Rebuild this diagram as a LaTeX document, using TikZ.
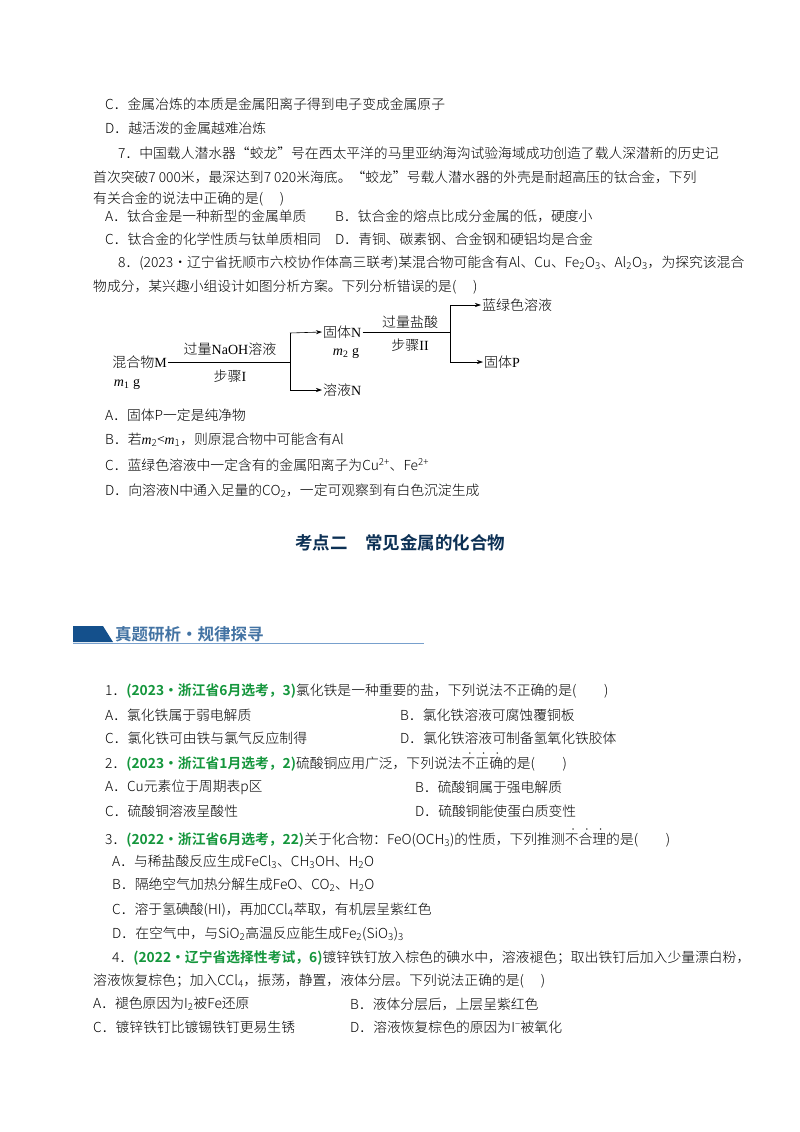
\documentclass[tikz,border=0pt]{standalone}
\usepackage{fontspec}
\setmainfont{Noto Sans CJK SC}[UprightFont=* Light,BoldFont=* Bold]
\newfontfamily\lat{Liberation Serif}
\usetikzlibrary{arrows.meta}
\definecolor{qgreen}{RGB}{20,150,60}
\definecolor{hblue}{RGB}{20,80,140}
\definecolor{lblue}{RGB}{120,160,205}
\newcommand{\src}[1]{\textcolor{qgreen}{\textbf{#1}}}
\newcommand{\ed}[1]{\makebox[0pt][l]{\makebox[1em][c]{\hspace{0.2em}\raisebox{0.9em}{\fontsize{6}{6}\selectfont\lat •}}}#1}
\newcommand{\mi}[1]{{\lat\itshape #1}}
\begin{document}
\begin{tikzpicture}[x=1pt,y=-1pt,
  t/.style={anchor=west,inner sep=0,font=\fontsize{13.8}{16}\selectfont},
  f/.style={inner sep=1pt,font=\fontsize{14}{16}\selectfont},
  ar/.style={-{Stealth[length=6pt,width=4pt]},line width=0.6pt},
  ln/.style={line width=0.6pt}]
\useasboundingbox (0,0) rectangle (800,1132);
\fill[white] (0,0) rectangle (800,1132);
\node[t] (l1) at (105,104) {C．金属冶炼的本质是金属阳离子得到电子变成金属原子};
\node[t] (l2) at (105,128) {D．越活泼的金属越难冶炼};
\node[t] (l3) at (118,153) {7．中国载人潜水器“蛟龙”号在西太平洋的马里亚纳海沟试验海域成功创造了载人深潜新的历史记};
\node[t] (l4) at (93,177) {首次突破7 000米，最深达到7 020米海底。“蛟龙”号载人潜水器的外壳是耐超高压的钛合金，下列};
\node[t] (l5) at (93,199) {有关合金的说法中正确的是(\quad\ )};
\node[t] (l6) at (105,216) {A．钛合金是一种新型的金属单质};
\node[t] (l6b) at (335,216) {B．钛合金的熔点比成分金属的低，硬度小};
\node[t] (l7) at (105,239) {C．钛合金的化学性质与钛单质相同};
\node[t] (l7b) at (335,239) {D．青铜、碳素钢、合金钢和硬铝均是合金};
\node[t] (l8) at (118,263) {8．(2023·辽宁省抚顺市六校协作体高三联考)某混合物可能含有Al、Cu、Fe\textsubscript{2}O\textsubscript{3}、Al\textsubscript{2}O\textsubscript{3}，为探究该混合};
\node[t] (l9) at (93,287) {物成分，某兴趣小组设计如图分析方案。下列分析错误的是(\quad\ )};
% diagram
\node[f,anchor=east] (M) at (168,362) {混合物{\lat M}};
\node[f] (m1) at (127,384) {\mi{m}{\lat\textsubscript{1} g}};
\coordinate (s1) at (290,362);
\draw[ln] (M.east) -- (s1);
\node[f] (r1) at (230,349) {过量{\lat NaOH}溶液};
\node[f] (st1) at (230,376) {步骤{\lat I}};
\coordinate (s1a) at (290,333); \coordinate (s1b) at (290,390);
\draw[ln] (s1a) -- (s1b);
\node[f,anchor=west] (N) at (322,332) {固体{\lat N}};
\node[f] (m2) at (346,353) {\mi{m}{\lat\textsubscript{2} g}};
\node[f,anchor=west] (SN) at (322,390) {溶液{\lat N}};
\draw[ar] (s1a) -- (N.west);
\draw[ar] (s1b) -- (SN.west);
\coordinate (s2) at (450,332);
\draw[ln] (N.east) -- (s2);
\node[f] (r2) at (410,322) {过量盐酸};
\node[f] (st2) at (410,345) {步骤{\lat II}};
\coordinate (s2a) at (450,305); \coordinate (s2b) at (450,362);
\draw[ln] (s2a) -- (s2b);
\node[f,anchor=west] (BG) at (481,305) {蓝绿色溶液};
\node[f,anchor=west] (P) at (483,362) {固体{\lat P}};
\draw[ar] (s2a) -- (BG.west);
\draw[ar] (s2b) -- (P.west);
\node[t] (a8) at (105,415) {A．固体P一定是纯净物};
\node[t] (b8) at (105,440) {B．若\mi{m}\textsubscript{2}<\mi{m}\textsubscript{1}，则原混合物中可能含有Al};
\node[t] (c8) at (105,465) {C．蓝绿色溶液中一定含有的金属阳离子为Cu\textsuperscript{2+}、Fe\textsuperscript{2+}};
\node[t] (d8) at (105,491) {D．向溶液N中通入足量的CO\textsubscript{2}，一定可观察到有白色沉淀生成};
\node[inner sep=0,font=\fontsize{17.5}{20}\selectfont\bfseries,text=hblue!60!black] (title) at (400,543) {考点二\quad 常见金属的化合物};
% header
\fill[hblue] (73,626) -- (103,626) -- (113,642) -- (73,642) -- cycle;
\draw[lblue,line width=1.2pt] (73,643.5) -- (424,643.5);
\node[t,font=\fontsize{16.5}{18}\selectfont\bfseries,text=hblue!80] (hd) at (115,634) {真题研析·规律探寻};
% Q1
\node[t] (q1) at (105,691) {1．\src{(2023•浙江省6月选考，3)}氯化铁是一种重要的盐，下列说法不正确的是(\qquad)};
\node[t] (q1a) at (105,715) {A．氯化铁属于弱电解质};
\node[t] (q1b) at (400,715) {B．氯化铁溶液可腐蚀覆铜板};
\node[t] (q1c) at (105,738) {C．氯化铁可由铁与氯气反应制得};
\node[t] (q1d) at (400,738) {D．氯化铁溶液可制备氢氧化铁胶体};
\node[t] (q2) at (105,762) {2．\src{(2023•浙江省1月选考，2)}硫酸铜应用广泛，下列说法\ed{不}\ed{正}\ed{确}的是(\qquad)};
\node[t] (q2a) at (105,787) {A．Cu元素位于周期表p区};
\node[t] (q2b) at (415,787) {B．硫酸铜属于强电解质};
\node[t] (q2c) at (105,811) {C．硫酸铜溶液呈酸性};
\node[t] (q2d) at (415,811) {D．硫酸铜能使蛋白质变性};
\node[t] (q3) at (105,838) {3．\src{(2022·浙江省6月选考，22)}关于化合物：FeO(OCH\textsubscript{3})的性质，下列推测\ed{不}\ed{合}\ed{理}的是(\qquad)};
\node[t] (q3a) at (112,862) {A．与稀盐酸反应生成FeCl\textsubscript{3}、CH\textsubscript{3}OH、H\textsubscript{2}O};
\node[t] (q3b) at (112,885) {B．隔绝空气加热分解生成FeO、CO\textsubscript{2}、H\textsubscript{2}O};
\node[t] (q3c) at (112,910) {C．溶于氢碘酸(HI)，再加CCl\textsubscript{4}萃取，有机层呈紫红色};
\node[t] (q3d) at (112,934) {D．在空气中，与SiO\textsubscript{2}高温反应能生成Fe\textsubscript{2}(SiO\textsubscript{3})\textsubscript{3}};
\node[t] (q4) at (112,958) {4．\src{(2022•辽宁省选择性考试，6)}镀锌铁钉放入棕色的碘水中，溶液褪色；取出铁钉后加入少量漂白粉，};
\node[t] (q4l) at (93,981) {溶液恢复棕色；加入CCl\textsubscript{4}，振荡，静置，液体分层。下列说法正确的是(\quad\ )};
\node[t] (q4a) at (93,1004) {A．褪色原因为I\textsubscript{2}被Fe还原};
\node[t] (q4b) at (350,1004) {B．液体分层后，上层呈紫红色};
\node[t] (q4c) at (93,1027) {C．镀锌铁钉比镀锡铁钉更易生锈};
\node[t] (q4d) at (350,1027) {D．溶液恢复棕色的原因为I\textsuperscript{−}被氧化};
\end{tikzpicture}
\end{document}
